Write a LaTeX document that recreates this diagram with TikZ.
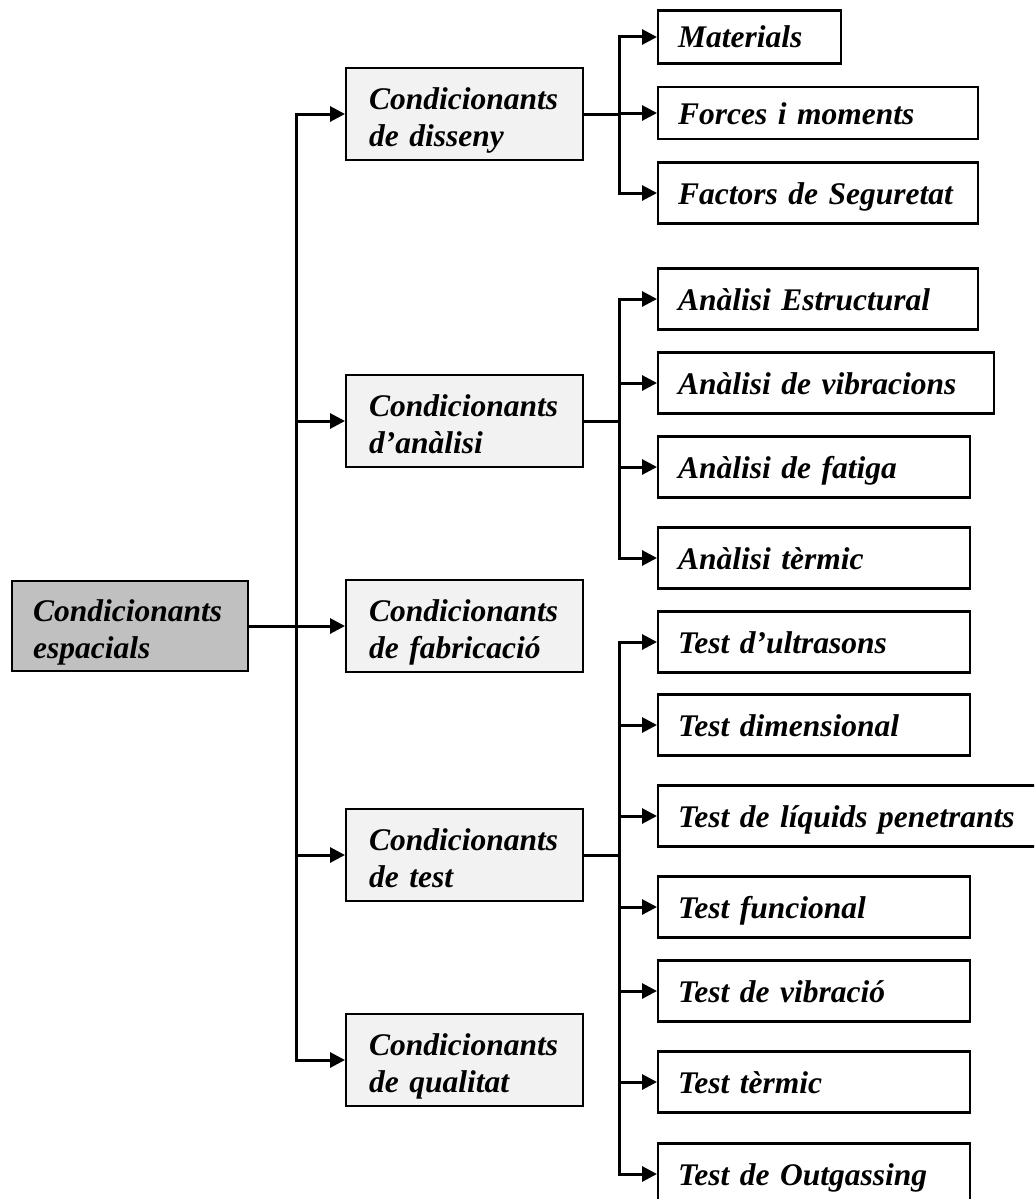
\documentclass[tikz,border=0pt]{standalone}
\usepackage{fontspec}
\setmainfont{Liberation Serif}
\usetikzlibrary{arrows.meta}
\definecolor{rootgray}{HTML}{C0C0C0}
\definecolor{condgray}{HTML}{F2F2F2}

\begin{document}
\begin{tikzpicture}[x=1pt, y=-1pt,
	box/.style={draw, line width=2.2pt, rectangle, align=left, inner ysep=0pt, font=\fontsize{31.5pt}{37pt}\selectfont\bfseries\itshape},
	rootbox/.style={box, anchor=west, fill=rootgray, inner xsep=21pt, text width=194pt, minimum height=90pt, text height=27pt, text depth=37pt},
	cond/.style={box, anchor=west, fill=condgray, inner xsep=23pt, text width=191pt, minimum height=92pt, text height=27pt, text depth=37pt},
	leaf/.style={box, anchor=west, inner xsep=20pt, text width=#1, minimum height=61pt, text height=22pt, text depth=0pt},
	wire/.style={line width=3pt, line cap=rect},
	arr/.style={wire, -{Triangle[length=15pt, width=15pt]}}
]
	\useasboundingbox (0,0) rectangle (1034,1199);
	\clip (0,0) rectangle (1034,1199);

	%root and second level
	\node (root) at (11, 626) [rootbox]{Condicionants\\espacials};
	\node (disseny) at (345, 114) [cond]{Condicionants\\de disseny};
	\node (analisi) at (345, 421) [cond]{Condicionants\\d’anàlisi};
	\node (fabricacio) at (345, 626) [cond]{Condicionants\\de fabricació};
	\node (test) at (345, 855) [cond]{Condicionants\\de test};
	\node (qualitat) at (345, 1060) [cond]{Condicionants\\de qualitat};

	%disseny leaves
	\node (materials) at (657, 37) [leaf=143pt, minimum height=53pt]{Materials};
	\node (forces) at (657, 113) [leaf=280pt, minimum height=52pt]{Forces i moments};
	\node (factors) at (657, 193) [leaf=280pt]{Factors de Seguretat};

	%analisi leaves
	\node (estructural) at (657, 299) [leaf=280pt]{Anàlisi Estructural};
	\node (vibracions) at (657, 383) [leaf=296pt]{Anàlisi de vibracions};
	\node (fatiga) at (657, 467) [leaf=272pt]{Anàlisi de fatiga};
	\node (termic) at (657, 558) [leaf=272pt]{Anàlisi tèrmic};

	%test leaves
	\node (ultrasons) at (657, 642) [leaf=272pt]{Test d’ultrasons};
	\node (dimensional) at (657, 725) [leaf=272pt]{Test dimensional};
	\node (liquids) at (657, 816) [leaf=350pt]{Test de líquids penetrants};
	\node (funcional) at (657, 907) [leaf=272pt]{Test funcional};
	\node (vibracio) at (657, 991) [leaf=272pt]{Test de vibració};
	\node (ttermic) at (657, 1082) [leaf=272pt]{Test tèrmic};
	\node (outgassing) at (657, 1174) [leaf=272pt]{Test de Outgassing};

	%first bus
	\coordinate (bus) at (296, 0);
	\draw[arr] (root.east) -- (fabricacio.west);
	\draw[wire] (disseny.west -| bus) -- (qualitat.west -| bus);
	\foreach \n in {disseny, analisi, test, qualitat}{
		\draw[arr] (\n.west -| bus) -- (\n.west);
	}

	%second buses
	\coordinate (busb) at (619, 0);
	\draw[wire] (disseny.east) -- (disseny.east -| busb);
	\draw[wire] (materials.west -| busb) -- (factors.west -| busb);
	\foreach \n in {materials, forces, factors}{
		\draw[arr] (\n.west -| busb) -- (\n.west);
	}

	\draw[wire] (analisi.east) -- (analisi.east -| busb);
	\draw[wire] (estructural.west -| busb) -- (termic.west -| busb);
	\foreach \n in {estructural, vibracions, fatiga, termic}{
		\draw[arr] (\n.west -| busb) -- (\n.west);
	}

	\draw[wire] (test.east) -- (test.east -| busb);
	\draw[wire] (ultrasons.west -| busb) -- (outgassing.west -| busb);
	\foreach \n in {ultrasons, dimensional, liquids, funcional, vibracio, ttermic, outgassing}{
		\draw[arr] (\n.west -| busb) -- (\n.west);
	}
\end{tikzpicture}
\end{document}
